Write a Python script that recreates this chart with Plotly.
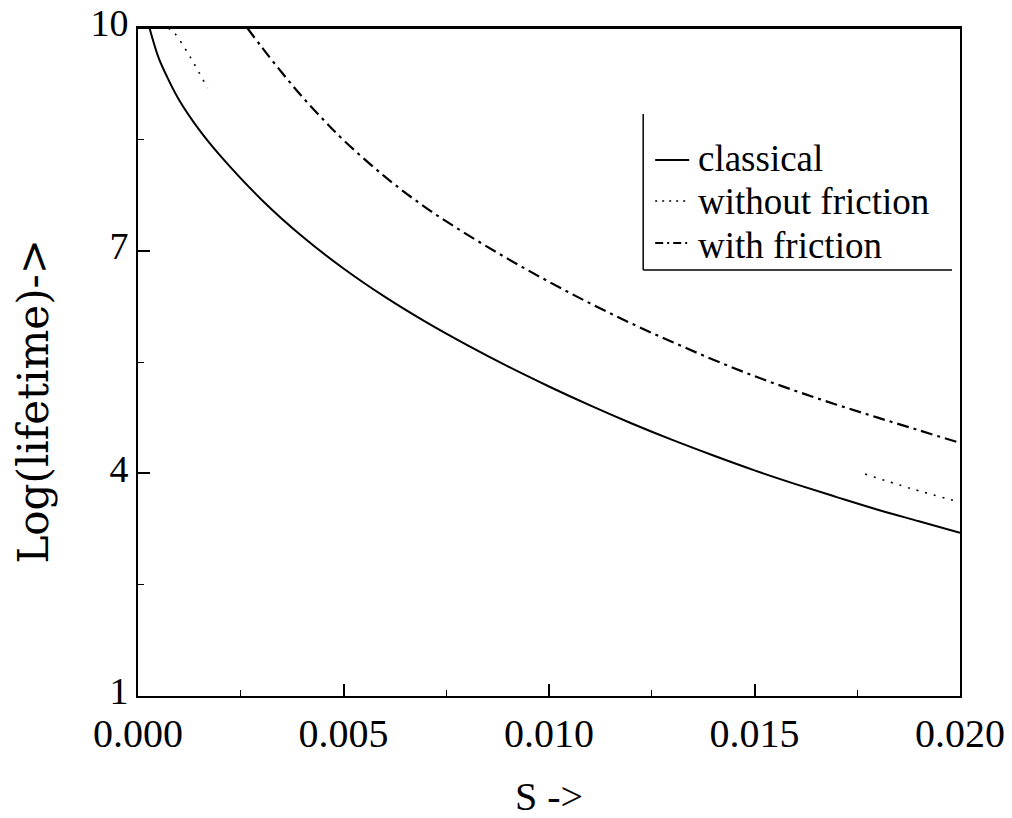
import plotly.graph_objects as go

# ---- data ----
s_classical = [0.00028, 0.0005, 0.0007, 0.001, 0.0015, 0.002, 0.003, 0.004, 0.005,
               0.006, 0.007, 0.008, 0.009, 0.010, 0.011, 0.012, 0.013, 0.014,
               0.015, 0.016, 0.017, 0.018, 0.019, 0.020]
y_classical = [10.0, 9.60, 9.35, 9.03, 8.62, 8.28, 7.69, 7.19, 6.76,
               6.38, 6.04, 5.73, 5.44, 5.17, 4.915, 4.675, 4.45, 4.24,
               4.04, 3.855, 3.68, 3.51, 3.355, 3.20]

s_friction = [0.00266, 0.003, 0.0035, 0.004, 0.0045, 0.005, 0.006, 0.007, 0.008,
              0.009, 0.010, 0.011, 0.012, 0.013, 0.014, 0.015, 0.016, 0.017,
              0.018, 0.019, 0.020]
y_friction = [10.0, 9.75, 9.40, 9.07, 8.77, 8.49, 8.00, 7.58, 7.22,
              6.89, 6.58, 6.29, 6.02, 5.77, 5.53, 5.31, 5.11, 4.925,
              4.75, 4.58, 4.41]

# without friction: only two visible fragments in the reference
s_nofric = [0.00074, 0.00089, 0.00128, 0.00169, None, 0.01769, 0.01878, 0.0200]
y_nofric = [10.0, 9.93, 9.60, 9.19, None, 3.99, 3.80, 3.61]

x_ticks = [0.0, 0.005, 0.010, 0.015, 0.020]
x_ticktext = ["0.000", "0.005", "0.010", "0.015", "0.020"]
y_ticks = [1, 4, 7, 10]
y_ticktext = ["1", "4", "7", "10"]

series_names = ["classical", "without friction", "with friction"]
series_width = [2, 1.6, 2.2]

SERIF = "Liberation Serif"
W, H = 1012, 818
L, R, T, B = 137.5, 52, 28, 122

fig = go.Figure()
fig.add_trace(go.Scatter(x=s_classical, y=y_classical, mode="lines", name=series_names[0],
                         line=dict(color="black", width=series_width[0]),
                         line_shape="spline"))
fig.add_trace(go.Scatter(x=s_nofric, y=y_nofric, mode="lines", name=series_names[1],
                         line=dict(color="black", width=series_width[1], dash="2px,7px"),
                         connectgaps=False, line_shape="spline"))
fig.add_trace(go.Scatter(x=s_friction, y=y_friction, mode="lines", name=series_names[2],
                         line=dict(color="black", width=series_width[2], dash="12px,5px,3px,5px"),
                         line_shape="spline"))

pw = W - L - R
ph = H - T - B
def px2paper_x(px):
    return (px - L) / pw
def px2paper_y(py):
    return (H - B - py) / ph

fig.update_layout(
    width=W, height=H,
    margin=dict(l=L, r=R, t=T, b=B, autoexpand=False),
    paper_bgcolor="white", plot_bgcolor="white",
    showlegend=False,
    font=dict(family=SERIF, color="black"),
)

fig.update_xaxes(range=[0, 0.02], tickvals=x_ticks, ticktext=x_ticktext,
                 showline=True, linecolor="black", linewidth=2, mirror=True,
                 ticks="inside", ticklen=12, tickwidth=1.5, tickcolor="black",
                 showgrid=False, zeroline=False, ticklabelstandoff=1, automargin=False,
                 tickfont=dict(family=SERIF, size=40, color="black"),
                 minor=dict(dtick=0.0025, ticks="inside", ticklen=6, tickwidth=1.2,
                            tickcolor="black", showgrid=False))
fig.update_yaxes(range=[1, 10], tickvals=y_ticks, ticktext=y_ticktext,
                 showline=True, linecolor="black", linewidth=2, mirror=True,
                 ticks="inside", ticklen=12, tickwidth=1.5, tickcolor="black",
                 showgrid=False, zeroline=False, ticklabelshift=-5,
                 ticklabeloverflow="allow", automargin=False,
                 tickfont=dict(family=SERIF, size=38, color="black"),
                 minor=dict(tick0=1, dtick=1.5, ticks="inside", ticklen=6, tickwidth=1.2,
                            tickcolor="black", showgrid=False))

# top frame line (kept explicit so the box is always closed)
fig.add_shape(type="line", xref="paper", yref="paper", x0=0, x1=1, y0=1, y1=1,
              line=dict(color="black", width=2))

# ---- legend drawn by hand (frame with left and bottom edges only) ----
fig.add_shape(type="line", xref="paper", yref="paper",
              x0=px2paper_x(643), x1=px2paper_x(643), y0=px2paper_y(114), y1=px2paper_y(270),
              line=dict(color="black", width=1.5))
fig.add_shape(type="line", xref="paper", yref="paper",
              x0=px2paper_x(643), x1=px2paper_x(952), y0=px2paper_y(270), y1=px2paper_y(270),
              line=dict(color="black", width=1.5))
leg_sample_y = [160, 201, 243]
leg_text_y = [158, 201, 246]
leg_dash = ["solid", "2px,5px", "8px,4px,2px,4px"]
for name, dash, w, sy, ty in zip(series_names, leg_dash, series_width, leg_sample_y, leg_text_y):
    fig.add_shape(type="line", xref="paper", yref="paper",
                  x0=px2paper_x(655), x1=px2paper_x(689), y0=px2paper_y(sy), y1=px2paper_y(sy),
                  line=dict(color="black", width=w, dash=dash))
    fig.add_annotation(text=name, xref="paper", yref="paper",
                       x=px2paper_x(696), y=px2paper_y(ty), xanchor="left", yanchor="middle",
                       showarrow=False, font=dict(family=SERIF, size=37, color="black"))

# axis titles as annotations
fig.add_annotation(text="S ->", xref="paper", yref="paper",
                   x=px2paper_x(549), y=px2paper_y(796), xanchor="center", yanchor="middle",
                   showarrow=False, font=dict(family=SERIF, size=40, color="black"))
fig.add_annotation(text="Log(lifetime)->", xref="paper", yref="paper",
                   x=px2paper_x(32), y=px2paper_y(402), xanchor="center", yanchor="middle",
                   showarrow=False, textangle=-90,
                   font=dict(family="DejaVu Serif", size=42, color="black"))

fig.write_html("out.html")
